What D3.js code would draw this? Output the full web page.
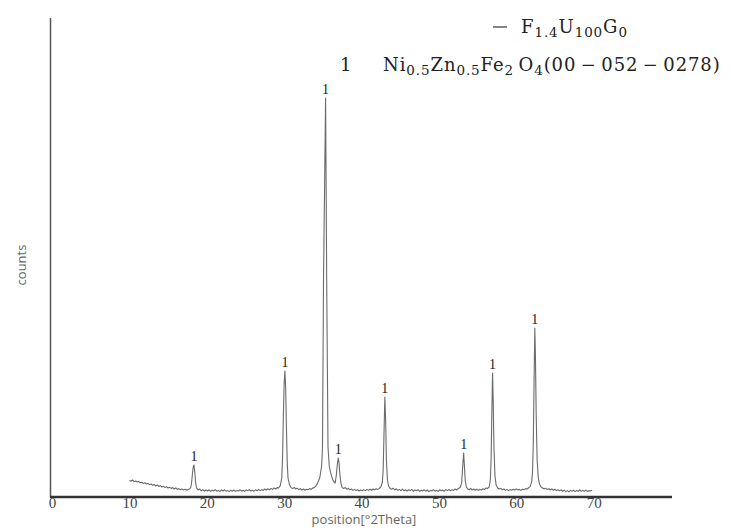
<!DOCTYPE html>
<html lang="en">
  <head>
    <meta charset="utf-8" />
    <script src="https://d3js.org/d3.v7.min.js"></script>
    <style>
      body { margin: 0; background: #fff; }
      .tick text { font-family: 'Liberation Serif', serif; font-size: 15px; fill: #444; }
      .axis-title { font-family: 'Open Sans', sans-serif; font-size: 13px; fill: #666; }
      .legend { font-family: 'DejaVu Serif', serif; font-size: 18px; letter-spacing: 0.9px; fill: #222; }
      .peak-label { font-family: 'Liberation Serif', serif; font-size: 14px; fill: #222; }
    </style>
  </head>
  <body>
    <svg id="chart" width="731" height="528"></svg>
    <script>
      // x tick labels
      const xTicks = [0, 10, 20, 30, 40, 50, 60, 70];

      // XRD pattern: [2theta, counts]
      const pattern = [
        [10.0, 78], [10.2, 74], [10.4, 80], [10.6, 72], [10.8, 75], [11.0, 70], [11.2, 73], [11.4, 66],
        [11.6, 69], [11.8, 63], [12.0, 66], [12.2, 60], [12.4, 63], [12.6, 57], [12.8, 60], [13.0, 54],
        [13.2, 58], [13.4, 50], [13.6, 55], [13.8, 48], [14.0, 52], [14.2, 45], [14.4, 49], [14.6, 42],
        [14.8, 47], [15.0, 40], [15.2, 44], [15.4, 38], [15.6, 42], [15.8, 35], [16.0, 40], [16.2, 33],
        [16.4, 37], [16.6, 31], [16.8, 35], [17.0, 30], [17.2, 34], [17.4, 29], [17.6, 33], [17.8, 36],
        [17.95, 45], [18.05, 70], [18.15, 110], [18.25, 145], [18.35, 155], [18.45, 120], [18.55, 70],
        [18.7, 38], [18.9, 30], [19.1, 35], [19.3, 26], [19.5, 32], [19.7, 24], [19.9, 30], [20.1, 25],
        [20.3, 31], [20.5, 23], [20.7, 29], [20.9, 25], [21.1, 32], [21.3, 24], [21.5, 28], [21.7, 23],
        [21.9, 30], [22.1, 25], [22.3, 31], [22.5, 24], [22.7, 27], [22.9, 22], [23.1, 29], [23.3, 24],
        [23.5, 30], [23.7, 23], [23.9, 28], [24.1, 25], [24.3, 31], [24.5, 24], [24.7, 29], [24.9, 23],
        [25.1, 30], [25.3, 26], [25.5, 32], [25.7, 25], [25.9, 29], [26.1, 24], [26.3, 31], [26.5, 26],
        [26.7, 33], [26.9, 27], [27.1, 32], [27.3, 28], [27.5, 35], [27.7, 30], [27.9, 36], [28.1, 31],
        [28.3, 38], [28.5, 33], [28.7, 40], [28.9, 35], [29.1, 42], [29.3, 40], [29.5, 52], [29.7, 90],
        [29.8, 200], [29.9, 400], [30.0, 560], [30.1, 625], [30.2, 540], [30.3, 340], [30.4, 170],
        [30.5, 90], [30.7, 55], [30.9, 42], [31.1, 37], [31.3, 43], [31.5, 35], [31.7, 39], [31.9, 32],
        [32.1, 37], [32.3, 30], [32.5, 35], [32.7, 29], [32.9, 34], [33.1, 31], [33.3, 37], [33.5, 33],
        [33.7, 40], [33.9, 42], [34.1, 50], [34.3, 62], [34.6, 90], [34.85, 150], [34.96, 245],
        [35.09, 1080], [35.23, 1550], [35.36, 1990], [35.43, 1550], [35.5, 1080], [35.67, 245],
        [35.83, 150], [36.0, 118], [36.15, 98], [36.3, 80], [36.45, 70], [36.6, 65], [36.75, 105],
        [36.88, 160], [37.0, 190], [37.1, 165], [37.2, 110], [37.35, 62], [37.5, 42], [37.7, 38],
        [37.9, 42], [38.1, 34], [38.3, 38], [38.5, 31], [38.7, 35], [38.9, 28], [39.1, 33], [39.3, 27],
        [39.5, 31], [39.7, 25], [39.9, 30], [40.1, 26], [40.3, 32], [40.5, 27], [40.7, 33], [40.9, 28],
        [41.1, 34], [41.3, 29], [41.5, 35], [41.7, 31], [41.9, 36], [42.1, 33], [42.3, 38], [42.5, 45],
        [42.7, 70], [42.8, 130], [42.9, 300], [43.02, 495], [43.12, 380], [43.22, 180], [43.35, 80],
        [43.5, 50], [43.7, 38], [43.9, 34], [44.1, 39], [44.3, 30], [44.5, 36], [44.7, 28], [44.9, 33],
        [45.1, 27], [45.3, 34], [45.5, 26], [45.7, 31], [45.9, 25], [46.1, 32], [46.3, 27], [46.5, 33],
        [46.7, 24], [46.9, 30], [47.1, 26], [47.3, 32], [47.5, 23], [47.7, 29], [47.9, 25], [48.1, 31],
        [48.3, 24], [48.5, 30], [48.7, 22], [48.9, 28], [49.1, 25], [49.3, 32], [49.5, 24], [49.7, 29],
        [49.9, 23], [50.1, 31], [50.3, 26], [50.5, 30], [50.7, 24], [50.9, 32], [51.1, 27], [51.3, 33],
        [51.5, 26], [51.7, 31], [51.9, 28], [52.1, 35], [52.3, 30], [52.5, 37], [52.65, 40], [52.8, 45],
        [52.95, 70], [53.05, 130], [53.2, 215], [53.3, 150], [53.4, 80], [53.55, 45], [53.7, 36],
        [53.9, 31], [54.1, 38], [54.3, 30], [54.5, 35], [54.7, 29], [54.9, 34], [55.1, 28], [55.3, 33],
        [55.5, 30], [55.7, 36], [55.9, 33], [56.1, 40], [56.3, 38], [56.5, 45], [56.65, 80], [56.75, 180],
        [56.85, 420], [56.94, 615], [57.02, 480], [57.12, 240], [57.25, 100], [57.4, 55], [57.6, 40],
        [57.8, 35], [58.0, 38], [58.2, 31], [58.4, 35], [58.6, 28], [58.8, 33], [59.0, 27], [59.2, 32],
        [59.4, 29], [59.6, 34], [59.8, 30], [60.0, 35], [60.2, 31], [60.4, 33], [60.6, 28], [60.8, 34],
        [61.0, 32], [61.2, 37], [61.4, 35], [61.6, 41], [61.8, 48], [62.0, 72], [62.1, 120], [62.2, 260],
        [62.3, 560], [62.4, 840], [62.48, 700], [62.58, 400], [62.7, 180], [62.85, 90], [63.0, 60],
        [63.2, 45], [63.4, 40], [63.6, 35], [63.8, 39], [64.0, 32], [64.2, 37], [64.4, 30], [64.6, 35],
        [64.8, 29], [65.0, 34], [65.2, 27], [65.4, 31], [65.6, 26], [65.8, 30], [66.0, 24], [66.2, 29],
        [66.4, 22], [66.6, 27], [66.8, 21], [67.0, 28], [67.2, 23], [67.4, 29], [67.6, 22], [67.8, 28],
        [68.0, 24], [68.2, 30], [68.4, 23], [68.6, 28], [68.8, 24], [69.0, 29], [69.2, 23], [69.4, 27],
        [69.6, 25], [69.8, 29]
      ];

      // peaks indexed as phase "1": [2theta, counts at top]
      const peaks = [
        [18.35, 155], [30.1, 625], [35.36, 1990], [37.0, 190],
        [43.02, 495], [53.2, 215], [56.94, 615], [62.4, 840]
      ];

      const svg = d3.select('#chart');

      const x = d3.scaleLinear().domain([0, 80]).range([52, 671]);
      const y = d3.scaleLinear().domain([0, 2390]).range([496, 18]);

      // axes
      svg.append('line')
        .attr('x1', 50.5).attr('x2', 50.5)
        .attr('y1', 18).attr('y2', 497)
        .attr('stroke', '#555').attr('stroke-width', 1.5);

      const xAxis = svg.append('g')
        .attr('transform', 'translate(0,497)')
        .call(d3.axisBottom(x).tickValues(xTicks).tickSize(0).tickPadding(0));
      xAxis.select('.domain')
        .attr('d', 'M50,0H672')
        .attr('stroke', '#333').attr('stroke-width', 2.5);

      // pattern
      const line = d3.line()
        .x(d => x(d[0]))
        .y(d => y(d[1]));

      svg.append('path')
        .datum(pattern)
        .attr('d', line)
        .attr('fill', 'none')
        .attr('stroke', '#6b6b6b')
        .attr('stroke-width', 1.1)
        .attr('stroke-linejoin', 'round');

      // peak labels
      svg.selectAll('.peak-label')
        .data(peaks)
        .enter()
        .append('text')
        .attr('class', 'peak-label')
        .attr('x', d => x(d[0]))
        .attr('y', d => y(d[1]) - 4)
        .attr('text-anchor', 'middle')
        .text('1');

      // axis titles
      svg.append('text')
        .attr('class', 'axis-title')
        .attr('transform', 'translate(26,265) rotate(-90)')
        .attr('text-anchor', 'middle')
        .text('counts');

      svg.append('text')
        .attr('class', 'axis-title')
        .attr('x', 364).attr('y', 524)
        .attr('text-anchor', 'middle')
        .text('position[°2Theta]');

      // legend
      svg.append('line')
        .attr('x1', 493).attr('x2', 507)
        .attr('y1', 27).attr('y2', 27)
        .attr('stroke', '#333').attr('stroke-width', 1.2);

      const leg1 = svg.append('text').attr('class', 'legend').attr('x', 521).attr('y', 33);
      leg1.append('tspan').text('F');
      leg1.append('tspan').attr('dy', 4).attr('font-size', 13.5).text('1.4');
      leg1.append('tspan').attr('dy', -4).text('U');
      leg1.append('tspan').attr('dy', 4).attr('font-size', 13.5).text('100');
      leg1.append('tspan').attr('dy', -4).text('G');
      leg1.append('tspan').attr('dy', 4).attr('font-size', 13.5).text('0');

      svg.append('text').attr('class', 'legend').attr('x', 340).attr('y', 71).text('1');
      const leg2 = svg.append('text').attr('class', 'legend').attr('x', 383).attr('y', 71);
      const parts = [
        ['Ni', 0], ['0.5', 1], ['Zn', 0], ['0.5', 1], ['Fe', 0], ['2', 1],
        ['\u2009O', 0], ['4', 1], ['(00\u2009\u2212\u2009052\u2009\u2212\u20090278)', 0]
      ];
      let sub = 0;
      parts.forEach(p => {
        const t = leg2.append('tspan').text(p[0]);
        t.attr('dy', (p[1] - sub) * 4);
        if (p[1]) t.attr('font-size', 13.5);
        sub = p[1];
      });
    </script>
  </body>
</html>
